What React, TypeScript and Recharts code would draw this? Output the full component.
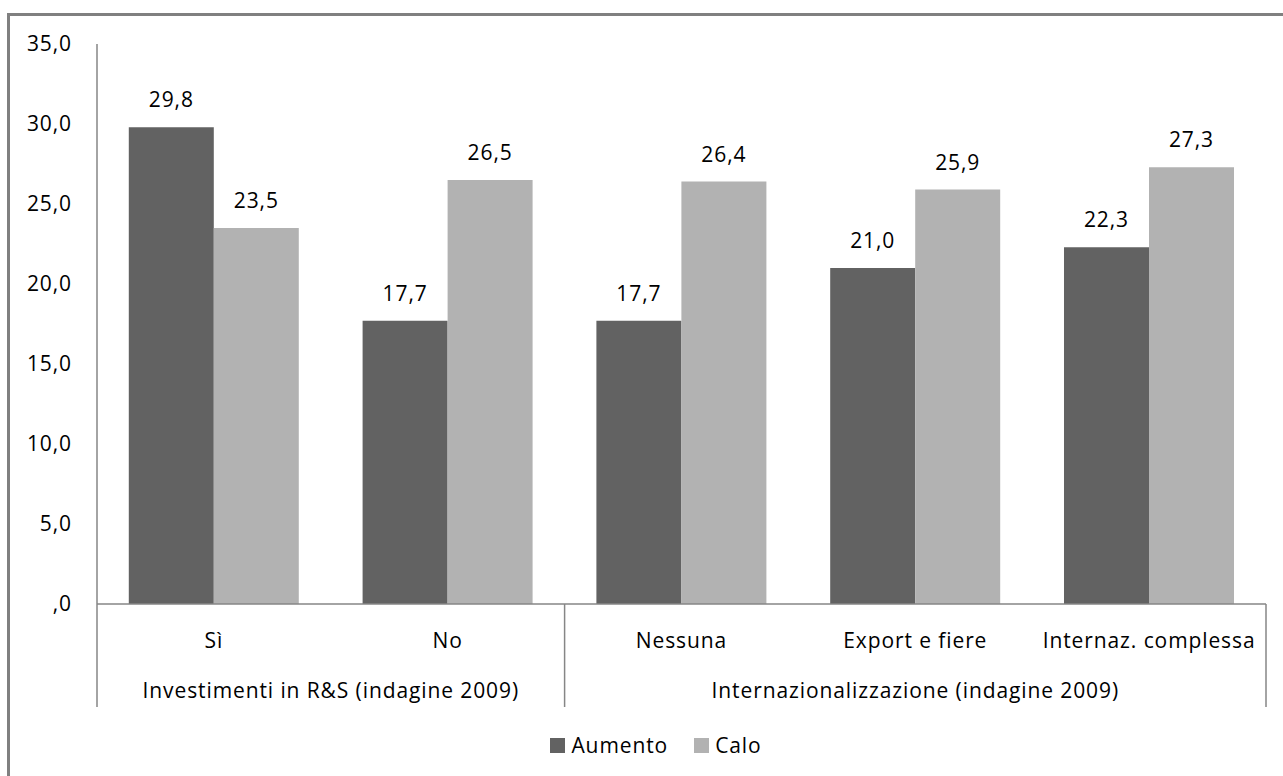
import React from "react";
import { BarChart, Bar, XAxis, YAxis, Legend, LabelList } from "recharts";

const categories = ["Sì", "No", "Nessuna", "Export e fiere", "Internaz. complessa"];
const groups = ["Investimenti in R&S (indagine 2009)", "Internazionalizzazione (indagine 2009)"];
const groupSizes = [2, 3];
const aumento = [29.8, 17.7, 17.7, 21.0, 22.3];
const calo = [23.5, 26.5, 26.4, 25.9, 27.3];
const yTicks = [0, 5, 10, 15, 20, 25, 30, 35];

const data = categories.map((name, i) => ({ name, aumento: aumento[i], calo: calo[i] }));

const W = 1283;
const H = 776;
const M = { top: 44, right: 17, bottom: 47, left: 0 };
const Y_AXIS_W = 97;
const FONT = "'Open Sans', sans-serif";
const FS = 21;
const LS = 0.9;
const AXIS = "#868686";
const DARK = "#626262";
const LIGHT = "#b2b2b2";

const fmt = (v: number) => (v === 0 ? ",0" : v.toFixed(1).replace(".", ","));

const bandWidth = (W - M.left - M.right - Y_AXIS_W) / categories.length;

// first index of each group
const groupStarts = groupSizes.map((_, g) => groupSizes.slice(0, g).reduce((a, b) => a + b, 0));

const CategoryTick = (props: any) => {
  const { x, y, payload } = props;
  const idx = payload.index;
  const g = groupStarts.indexOf(idx);
  const left = x - bandWidth / 2;
  return (
    <g>
      <text x={x} y={y + 38} textAnchor="middle" dominantBaseline="middle" fill="#000" fontSize={FS} fontFamily={FONT} letterSpacing={LS}>
        {payload.value}
      </text>
      {g >= 0 && (
        <>
          <line x1={left} y1={y} x2={left} y2={y + 103} stroke={AXIS} strokeWidth={1.5} />
          <text
            x={left + (groupSizes[g] * bandWidth) / 2}
            y={y + 88}
            textAnchor="middle"
            dominantBaseline="middle"
            fill="#000"
            fontSize={FS}
            fontFamily={FONT}
            letterSpacing={LS}
          >
            {groups[g]}
          </text>
        </>
      )}
      {idx === categories.length - 1 && (
        <line x1={x + bandWidth / 2} y1={y} x2={x + bandWidth / 2} y2={y + 103} stroke={AXIS} strokeWidth={1.5} />
      )}
    </g>
  );
};

const LegendContent = () => (
  <div style={{ display: "flex", justifyContent: "center", fontFamily: FONT, fontSize: FS, letterSpacing: LS, color: "#000", lineHeight: "22px" }}>
    {[
      { label: "Aumento", color: DARK },
      { label: "Calo", color: LIGHT },
    ].map((item) => (
      <div key={item.label} style={{ display: "flex", alignItems: "center", marginRight: 26 }}>
        <span style={{ width: 15, height: 15, background: item.color, display: "inline-block", marginRight: 6 }} />
        <span>{item.label}</span>
      </div>
    ))}
  </div>
);

export default function App() {
  return (
    <div style={{ position: "absolute", left: 0, top: 0, width: W, height: H, background: "#fff" }}>
      <div
        style={{
          position: "absolute",
          left: 7,
          top: 13,
          right: 0,
          bottom: 0,
          borderTop: "3px solid #808080",
          borderLeft: "3px solid #808080",
        }}
      />
      <div style={{ position: "absolute", left: 0, top: 0 }}>
        <BarChart width={W} height={H} data={data} margin={M} barCategoryGap="13.6%" barGap={0}>
          <YAxis
            width={Y_AXIS_W}
            domain={[0, 35]}
            ticks={yTicks}
            tickFormatter={fmt}
            tickLine={false}
            tickSize={0}
            tickMargin={25}
            axisLine={{ stroke: AXIS, strokeWidth: 1.5 }}
            tick={{ fill: "#000", fontSize: FS, fontFamily: FONT, letterSpacing: LS }}
            interval={0}
          />
          <XAxis
            dataKey="name"
            tickLine={false}
            tickSize={0}
            tickMargin={0}
            height={103}
            interval={0}
            axisLine={{ stroke: AXIS, strokeWidth: 1.5 }}
            tick={<CategoryTick />}
          />
          <Legend
            verticalAlign="bottom"
            content={<LegendContent />}
            wrapperStyle={{ left: 0, width: 1338, top: 734 }}
          />
          <Bar dataKey="aumento" name="Aumento" fill={DARK} isAnimationActive={false}>
            <LabelList dataKey="aumento" position="top" offset={20} formatter={(v: any) => fmt(Number(v))} fill="#000" fontSize={FS} fontFamily={FONT} letterSpacing={LS} />
          </Bar>
          <Bar dataKey="calo" name="Calo" fill={LIGHT} isAnimationActive={false}>
            <LabelList dataKey="calo" position="top" offset={20} formatter={(v: any) => fmt(Number(v))} fill="#000" fontSize={FS} fontFamily={FONT} letterSpacing={LS} />
          </Bar>
        </BarChart>
      </div>
    </div>
  );
}
